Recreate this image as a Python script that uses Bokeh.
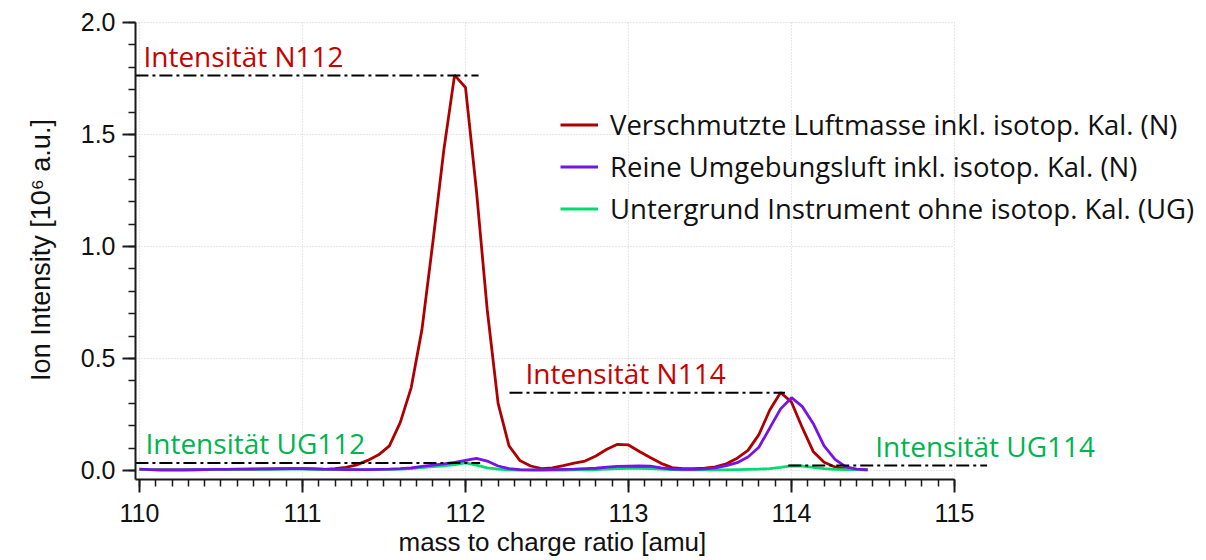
from bokeh.plotting import figure
from bokeh.models import (Range1d, FixedTicker, Legend, LegendItem, Title,
                          PrintfTickFormatter, ColumnDataSource)
from bokeh.core.properties import value
from bokeh.embed import file_html
from bokeh.resources import INLINE
import numpy as np

# ---------------- data ----------------
mass = [110.000, 110.067, 110.133, 110.200, 110.267, 110.333, 110.400, 110.467,
        110.533, 110.600, 110.667, 110.733, 110.800, 110.867, 110.933, 111.000,
        111.067, 111.133, 111.200, 111.267, 111.333, 111.400, 111.467, 111.533,
        111.600, 111.667, 111.733, 111.800, 111.867, 111.933, 112.000, 112.067,
        112.133, 112.200, 112.267, 112.333, 112.400, 112.467, 112.533, 112.600,
        112.667, 112.733, 112.800, 112.867, 112.933, 113.000, 113.067, 113.133,
        113.200, 113.267, 113.333, 113.400, 113.467, 113.533, 113.600, 113.667,
        113.733, 113.800, 113.867, 113.933, 114.000, 114.067, 114.133, 114.200,
        114.267, 114.333, 114.400, 114.467]

polluted = [0.005, 0.004, 0.003, 0.003, 0.003, 0.003, 0.004, 0.004, 0.005, 0.005,
            0.006, 0.006, 0.007, 0.007, 0.008, 0.008, 0.007, 0.005, 0.008, 0.014,
            0.025, 0.045, 0.070, 0.110, 0.215, 0.370, 0.630, 1.020, 1.430, 1.765,
            1.710, 1.250, 0.720, 0.300, 0.110, 0.045, 0.020, 0.008, 0.012, 0.022,
            0.033, 0.042, 0.065, 0.095, 0.117, 0.114, 0.085, 0.058, 0.032, 0.013,
            0.008, 0.008, 0.010, 0.016, 0.030, 0.055, 0.090, 0.160, 0.270, 0.348,
            0.305, 0.190, 0.085, 0.037, 0.016, 0.007, 0.004, 0.003]

ambient = [0.006, 0.004, 0.003, 0.003, 0.003, 0.004, 0.004, 0.005, 0.005, 0.006,
           0.006, 0.007, 0.007, 0.008, 0.008, 0.008, 0.007, 0.006, 0.005, 0.004,
           0.004, 0.004, 0.005, 0.006, 0.008, 0.012, 0.018, 0.024, 0.030, 0.036,
           0.045, 0.054, 0.042, 0.020, 0.008, 0.004, 0.003, 0.003, 0.004, 0.005,
           0.006, 0.008, 0.010, 0.015, 0.018, 0.019, 0.020, 0.019, 0.012, 0.006,
           0.005, 0.005, 0.007, 0.012, 0.022, 0.035, 0.060, 0.104, 0.190, 0.275,
           0.325, 0.285, 0.210, 0.110, 0.050, 0.016, 0.006, 0.003]

background = [0.004, 0.004, 0.003, 0.003, 0.003, 0.003, 0.004, 0.004, 0.004, 0.004,
              0.005, 0.005, 0.005, 0.006, 0.006, 0.006, 0.005, 0.005, 0.004, 0.004,
              0.004, 0.004, 0.004, 0.005, 0.006, 0.008, 0.013, 0.017, 0.021, 0.026,
              0.034, 0.024, 0.012, 0.006, 0.003, 0.002, 0.002, 0.002, 0.002, 0.002,
              0.003, 0.003, 0.004, 0.006, 0.008, 0.010, 0.010, 0.009, 0.006, 0.004,
              0.003, 0.003, 0.003, 0.003, 0.003, 0.004, 0.005, 0.006, 0.008, 0.014,
              0.021, 0.020, 0.014, 0.008, 0.005, 0.004, 0.004, 0.004]

series_names = ["Verschmutzte Luftmasse inkl. isotop. Kal. (N)",
                "Reine Umgebungsluft inkl. isotop. Kal. (N)",
                "Untergrund Instrument ohne isotop. Kal. (UG)"]

# annotated intensity levels
ann_text = ["Intensität N112", "Intensität N114", "Intensität UG112", "Intensität UG114"]
ann_level = [1.763, 0.347, 0.034, 0.022]
ann_x0 = [109.975, 112.27, 109.975, 113.98]
ann_x1 = [112.08, 113.96, 112.09, 115.20]

x_major = [110, 111, 112, 113, 114, 115]
y_major = [0.0, 0.5, 1.0, 1.5, 2.0]
x_title = "mass to charge ratio [amu]"
y_title = "Ion Intensity [10⁶ a.u.]"

# ---------------- styling ----------------
RED = "#AE0000"
PURPLE = "#7812E6"
GREEN = "#00DC6E"
TXT_RED = "#C80000"
TXT_GREEN = "#00B450"
ann_colors = [TXT_RED, TXT_RED, TXT_GREEN, TXT_GREEN]
ann_dx = [8, 16, 10, 87]

AX_FONT = "Liberation Sans"
CAL_FONT = "Open Sans"

p = figure(width=1206, height=560,
           x_range=Range1d(109.9755, 116.546), y_range=Range1d(-0.0402, 2.0089),
           output_backend="svg", toolbar_location=None,
           min_border_left=135, min_border_right=0,
           min_border_top=20, min_border_bottom=81)
p.outline_line_color = None
p.xgrid.visible = False
p.ygrid.visible = False
p.background_fill_color = "white"
p.border_fill_color = "white"

# grid (limited to the data frame 110..115 / 0..2)
p.segment(x0=[p.x_range.start] * len(y_major), y0=y_major,
          x1=[x_major[-1]] * len(y_major), y1=y_major,
          line_color="#cfcfcf", line_width=1, line_dash="1 2")
p.segment(x0=x_major, y0=[p.y_range.start] * len(x_major), x1=x_major,
          y1=[y_major[-1]] * len(x_major),
          line_color="#cfcfcf", line_width=1, line_dash="1 2")

# curves
r_red = p.line(mass, polluted, line_color=RED, line_width=2.8)
r_green = p.line(mass, background, line_color=GREEN, line_width=2.8)
r_purple = p.line(mass, ambient, line_color=PURPLE, line_width=2.8)

# intensity markers
p.segment(x0=ann_x0, y0=ann_level, x1=ann_x1, y1=ann_level,
          line_color="black", line_width=2, line_dash="13 4 3 4")
ann_src = ColumnDataSource(dict(x=ann_x0, y=ann_level, t=ann_text, c=ann_colors, dx=ann_dx))
p.text(x="x", y="y", text="t", text_color="c", x_offset="dx", y_offset=-20,
       source=ann_src, text_font=value(CAL_FONT), text_font_size="28px",
       text_baseline="alphabetic", text_align="left")

# axes
xa = p.xaxis[0]
xa.ticker = FixedTicker(ticks=x_major, minor_ticks=list(np.round(np.arange(110, 115.01, 0.1), 2)))
xa.formatter = PrintfTickFormatter(format="%d")
xa.bounds = (p.x_range.start, 115)
ya = p.yaxis[0]
ya.ticker = FixedTicker(ticks=y_major, minor_ticks=list(np.round(np.arange(0, 2.01, 0.1), 2)))
ya.formatter = PrintfTickFormatter(format="%.1f")
ya.bounds = (p.y_range.start, 2.0)

for ax in (xa, ya):
    ax.axis_line_color = "#1a1a1a"
    ax.axis_line_width = 2
    ax.major_tick_line_color = "#1a1a1a"
    ax.major_tick_line_width = 2
    ax.minor_tick_line_color = "#1a1a1a"
    ax.minor_tick_line_width = 1.5
    ax.major_tick_in = 0
    ax.major_tick_out = 13
    ax.minor_tick_in = 0
    ax.minor_tick_out = 7
    ax.major_label_text_font = AX_FONT
    ax.major_label_text_font_size = "25px"
    ax.major_label_text_color = "#111111"
xa.major_label_standoff = 11
ya.major_label_standoff = 7

# axis titles (side titles so they can be placed like the reference)
p.add_layout(Title(text=x_title, align="left", offset=263, standoff=0,
                   text_font=AX_FONT, text_font_size="26px", text_font_style="normal",
                   text_color="#111111"), "below")
p.add_layout(Title(text=y_title, align="center", offset=15, standoff=44,
                   text_font=AX_FONT, text_font_size="27px", text_font_style="normal",
                   text_color="#111111"), "left")

# legend
legend = Legend(items=[LegendItem(label=series_names[0], renderers=[r_red]),
                       LegendItem(label=series_names[1], renderers=[r_purple]),
                       LegendItem(label=series_names[2], renderers=[r_green])],
                location=(425, 252), padding=0, margin=0, spacing=5,
                glyph_width=38, glyph_height=37, label_height=37,
                label_standoff=12, label_text_font=CAL_FONT,
                label_text_font_size="27.5px", label_text_color="#111111",
                border_line_alpha=0, background_fill_alpha=0)
p.add_layout(legend)

open("out.html", "w").write(file_html(p, INLINE))
